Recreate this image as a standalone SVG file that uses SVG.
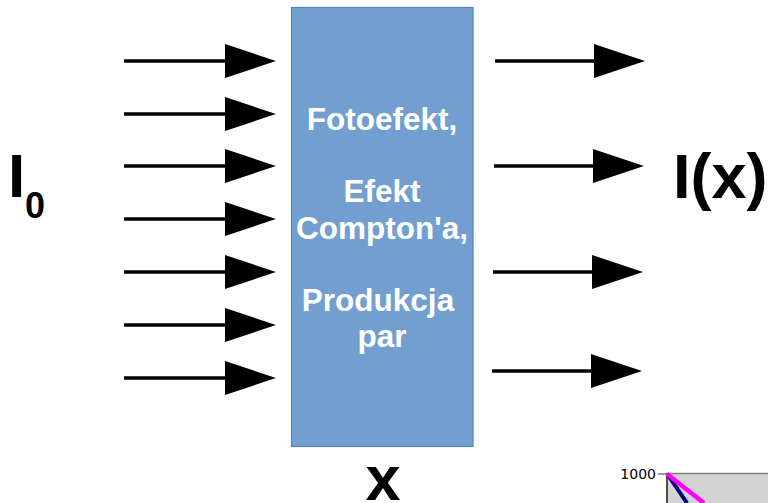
<svg xmlns="http://www.w3.org/2000/svg" width="768" height="503" viewBox="0 0 768 503">
<style>
.ln{stroke:#000;stroke-width:3.5;fill:none}
.hd{fill:#000}
.big{font-family:"Liberation Sans",Arial,sans-serif;font-weight:bold;fill:#000}
.bt{font-family:"Liberation Sans",Arial,sans-serif;font-weight:bold;fill:#fff;font-size:31.5px;text-anchor:middle}
</style>
<defs>
<marker id="ah" markerUnits="userSpaceOnUse" markerWidth="52" markerHeight="36" refX="0" refY="17" orient="auto" viewBox="0 0 52 34">
<path d="M0,0 L51,17 L0,34 Z" fill="#000"/>
</marker>
</defs>
<rect width="768" height="503" fill="#fff"/>
<g id="box">
<rect x="291.5" y="7.5" width="181.5" height="439" fill="#729fcf" stroke="#5a82b8" stroke-width="1.2"/>
<text class="bt" x="382" y="130">Fotoefekt,</text>
<text class="bt" x="382" y="202">Efekt</text>
<text class="bt" x="382" y="239">Compton'a,</text>
<text class="bt" x="378" y="311">Produkcja</text>
<text class="bt" x="382" y="347">par</text>
</g>
<g id="connectors">
<line class="ln" x1="124" y1="61" x2="225" y2="61" marker-end="url(#ah)"/>
<line class="ln" x1="124" y1="114" x2="225" y2="114" marker-end="url(#ah)"/>
<line class="ln" x1="124" y1="166" x2="225" y2="166" marker-end="url(#ah)"/>
<line class="ln" x1="124" y1="219" x2="225" y2="219" marker-end="url(#ah)"/>
<line class="ln" x1="124" y1="272" x2="225" y2="272" marker-end="url(#ah)"/>
<line class="ln" x1="124" y1="325" x2="225" y2="325" marker-end="url(#ah)"/>
<line class="ln" x1="124" y1="378" x2="225" y2="378" marker-end="url(#ah)"/>
<line class="ln" x1="495" y1="61" x2="594" y2="61" marker-end="url(#ah)"/>
<line class="ln" x1="494" y1="166" x2="593" y2="166" marker-end="url(#ah)"/>
<line class="ln" x1="493" y1="272" x2="592" y2="272" marker-end="url(#ah)"/>
<line class="ln" x1="492" y1="371" x2="591" y2="371" marker-end="url(#ah)"/>
</g>
<g id="I0">
<text class="big" x="8" y="197" font-size="62">I</text>
<text class="big" x="25" y="218" font-size="36">0</text>
</g>
<g id="Ix">
<text class="big" x="673" y="198" font-size="63">I(x)</text>
</g>
<g id="xlabel">
<text class="big" x="383" y="500" font-size="63" text-anchor="middle">x</text>
</g>
<g id="chart">
<rect x="667" y="473.5" width="110" height="40" fill="#d3d3d3" stroke="#808080" stroke-width="1.5"/>
<line x1="667" y1="473" x2="667" y2="503" stroke="#333" stroke-width="1.5"/>
<line x1="658" y1="474" x2="667" y2="474" stroke="#333" stroke-width="1"/>
<text x="656" y="479" font-family="'DejaVu Sans',sans-serif" font-size="14" text-anchor="end" fill="#000">1000</text>
<line x1="668" y1="475" x2="687" y2="503" stroke="#000080" stroke-width="4"/>
<line x1="667" y1="474" x2="704" y2="503" stroke="#ff00ff" stroke-width="4.5"/>
</g>
</svg>
